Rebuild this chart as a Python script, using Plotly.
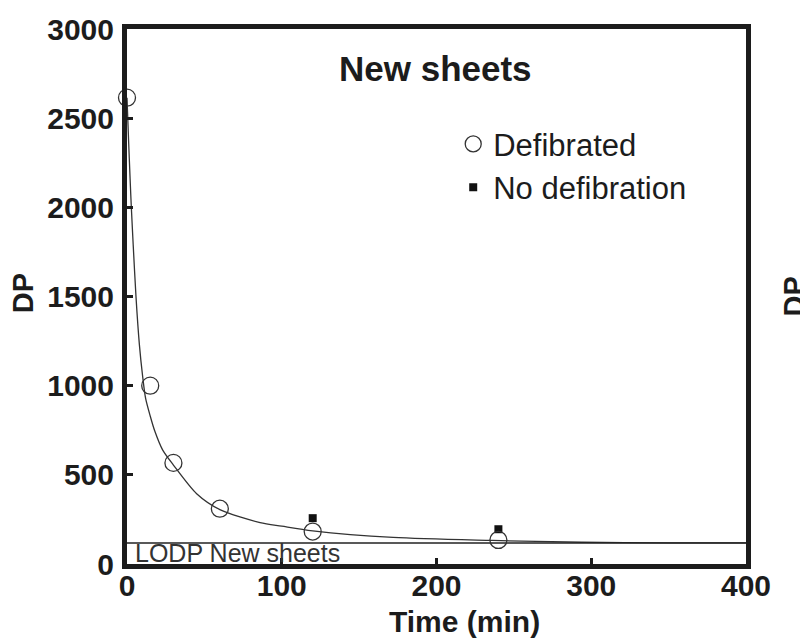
import plotly.graph_objects as go

# Data
time_defib = [0, 15, 30, 60, 120, 240]
dp_defib = [2615, 1000, 567, 310, 182, 135]

time_nodef = [120, 240]
dp_nodef = [257, 195]

# fitted curve
fit_time = [0, 1, 2, 2.8, 4, 5.8, 8, 10, 12, 15, 18, 23, 30, 45, 60, 86, 100, 120, 172, 236, 294, 350, 400]
fit_dp = [2615, 2380, 2160, 2000, 1790, 1500, 1230, 1060, 930, 830, 744, 640, 555, 394, 305, 232, 212, 186, 149, 132, 122, 119, 118]

lodp_value = 118
lodp_x = [0, 400]

x_ticks = [0, 100, 200, 300, 400]
y_ticks = [0, 500, 1000, 1500, 2000, 2500, 3000]

FONT = "Liberation Sans, Arial, sans-serif"
INK = "#1c1c1c"

fig = go.Figure()

fig.add_trace(go.Scatter(x=fit_time, y=fit_dp, mode="lines",
                         line=dict(color="#333333", width=1.3, shape="spline", smoothing=0.8),
                         showlegend=False, hoverinfo="skip"))
fig.add_trace(go.Scatter(x=lodp_x, y=[lodp_value] * len(lodp_x), mode="lines",
                         line=dict(color="#222222", width=1.4), showlegend=False,
                         hoverinfo="skip"))
fig.add_trace(go.Scatter(x=time_nodef, y=dp_nodef, mode="markers", name="No defibration",
                         marker=dict(symbol="square", size=8, color="#111111"),
                         legendrank=2, cliponaxis=False))
fig.add_trace(go.Scatter(x=time_defib, y=dp_defib, mode="markers", name="Defibrated",
                         marker=dict(symbol="circle-open", size=17, color="#333333",
                                     line=dict(width=1.3, color="#333333")),
                         legendrank=1, cliponaxis=False))

axis_common = dict(showline=True, linewidth=5, linecolor=INK, mirror=True,
                   ticks="inside", ticklen=6, tickwidth=3, tickcolor=INK,
                   showgrid=False, zeroline=False, layer="above traces",
                   tickfont=dict(family=FONT, size=30, color=INK, weight="bold"))

fig.update_xaxes(range=[0, 400], tickvals=x_ticks, ticklabelstandoff=-9, **axis_common)
fig.update_yaxes(range=[0, 3000], tickvals=y_ticks, ticklabelstandoff=2, **axis_common)

fig.update_layout(
    width=800, height=638,
    margin=dict(l=127, r=54, t=26, b=74),
    paper_bgcolor="white", plot_bgcolor="white",
    showlegend=True,
    legend=dict(x=0.527, y=0.835, xanchor="left", yanchor="top",
                bgcolor="rgba(0,0,0,0)", borderwidth=0, itemsizing="trace",
                font=dict(family=FONT, size=31, color=INK), tracegroupgap=0),
    annotations=[
        dict(text="<b>New sheets</b>", xref="paper", yref="paper", x=0.499, y=0.926,
             xanchor="center", yanchor="middle", showarrow=False,
             font=dict(family=FONT, size=35, color=INK)),
        dict(text="<b>Time (min)</b>", xref="paper", yref="paper", x=0.546, y=-0.108,
             xanchor="center", yanchor="middle", showarrow=False,
             font=dict(family=FONT, size=30, color=INK)),
        dict(text="<b>DP</b>", xref="paper", yref="paper", x=-0.168, y=0.506,
             xanchor="center", yanchor="middle", showarrow=False, textangle=-90,
             font=dict(family=FONT, size=29, color=INK)),
        dict(text="<b>DP</b>", xref="paper", yref="paper", x=1.076, y=0.5,
             xanchor="center", yanchor="middle", showarrow=False, textangle=-90,
             font=dict(family=FONT, size=29, color=INK)),
        dict(text="LODP New sheets", xref="paper", yref="paper", x=0.01, y=0.02,
             xanchor="left", yanchor="middle", showarrow=False,
             font=dict(family=FONT, size=25, color="#333333")),
    ],
)

fig.write_html("out.html")
